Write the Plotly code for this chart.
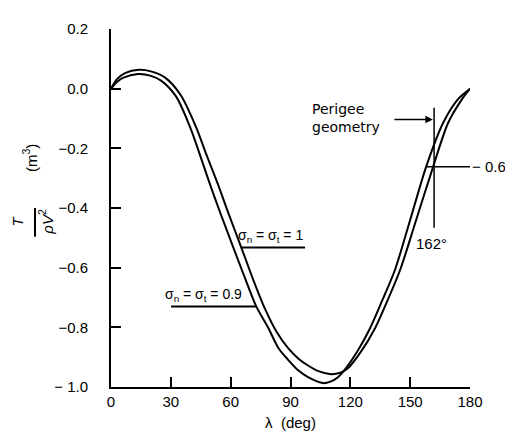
import plotly.graph_objects as go

# ---- data ----
lam_s1 = [0, 3, 7, 14, 20, 27, 35, 42.6, 47.5, 53.6, 59, 65.2, 71, 77, 83, 88.7, 94, 98.8, 104, 110.3,
          115, 118.8, 125, 132.4, 138, 145, 153, 161.5, 169, 176, 180]
T_s1 = [0.0, 0.032, 0.052, 0.063, 0.058, 0.038, -0.022, -0.128, -0.215, -0.32, -0.42, -0.53, -0.635,
        -0.735, -0.815, -0.869, -0.905, -0.928, -0.947, -0.957, -0.952, -0.937, -0.885, -0.803, -0.72,
        -0.607, -0.44, -0.262, -0.115, -0.035, 0.0]

lam_s09 = [0, 3, 6, 13.5, 20, 25.1, 32.6, 39.6, 44, 49.6, 55, 61.2, 67, 72.7, 78.7, 84, 88.7, 94, 98.8,
           106.3, 110, 113.8, 118, 124, 129.9, 136, 142.4, 150, 158, 166.5, 174, 180]
T_s09 = [0.0, 0.022, 0.036, 0.049, 0.043, 0.027, -0.026, -0.128, -0.21, -0.32, -0.42, -0.53, -0.632,
         -0.728, -0.80, -0.87, -0.908, -0.945, -0.967, -0.987, -0.982, -0.967, -0.935, -0.875, -0.803,
         -0.71, -0.607, -0.44, -0.262, -0.115, -0.035, 0.0]

x_ticks = [0, 30, 60, 90, 120, 150, 180]
x_ticktext = ["0", "30", "60", "90", "120", "150", "180"]
y_ticks = [0.2, 0.0, -0.2, -0.4, -0.6, -0.8, -1.0]
y_ticktext = ["0.2", "0.0", "\u22120.2", "\u22120.4", "\u22120.6", "\u22120.8", "\u2212 1.0"]

perigee_deg = 162
perigee_T = -0.262

FONT = "Liberation Sans, Arial, sans-serif"

fig = go.Figure()
fig.add_trace(go.Scatter(x=lam_s1, y=T_s1, mode="lines", name="σn=σt=1",
                         line=dict(color="black", width=2, shape="spline", smoothing=0.8)))
fig.add_trace(go.Scatter(x=lam_s09, y=T_s09, mode="lines", name="σn=σt=0.9",
                         line=dict(color="black", width=2, shape="spline", smoothing=0.8)))

axis_common = dict(showline=True, linecolor="black", linewidth=2, ticks="inside", ticklen=10,
                   tickwidth=2, tickcolor="black", showgrid=False, zeroline=False,
                   tickfont=dict(family=FONT, size=15, color="black"))

fig.update_xaxes(range=[0, 180], tickvals=x_ticks, ticktext=x_ticktext,
                 title=dict(text="λ  (deg)", font=dict(family=FONT, size=15, color="black"), standoff=8),
                 **axis_common)
fig.update_yaxes(range=[-1.0, 0.2], tickvals=y_ticks, ticktext=y_ticktext, ticklabelstandoff=18,
                 **axis_common)

ann = []
shapes = []
# y-axis title built as a fraction
tfont = dict(family=FONT, size=15, color="black")
lfont = dict(family=FONT, size=14, color="black")
ann.append(dict(xref="paper", yref="paper", x=-0.259, y=0.462, xanchor="center", yanchor="middle",
                text="<i>T</i>", textangle=-90, showarrow=False, font=tfont))
ann.append(dict(xref="paper", yref="paper", x=-0.181, y=0.462, xanchor="center", yanchor="middle",
                text="<i>ρV</i><sup>2</sup>", textangle=-90, showarrow=False, font=tfont))
ann.append(dict(xref="paper", yref="paper", x=-0.225, y=0.64, xanchor="center", yanchor="middle",
                text="(m<sup>3</sup>)", textangle=-90, showarrow=False, font=tfont))
shapes.append(dict(type="line", xref="paper", yref="paper", x0=-0.2117, x1=-0.2117, y0=0.42, y1=0.50,
                   line=dict(color="black", width=2)))

# curve labels
ann.append(dict(x=62.5, y=-0.532, xanchor="left", yanchor="bottom", showarrow=False,
                text="σ<sub>n</sub> = σ<sub>t</sub> = 1", font=lfont))
shapes.append(dict(type="line", x0=65.2, x1=97.3, y0=-0.532, y1=-0.532, line=dict(color="black", width=2)))
ann.append(dict(x=26.0, y=-0.730, xanchor="left", yanchor="bottom", showarrow=False,
                text="σ<sub>n</sub> = σ<sub>t</sub> = 0.9", font=lfont))
shapes.append(dict(type="line", x0=30.1, x1=72.7, y0=-0.730, y1=-0.730, line=dict(color="black", width=2)))

# perigee geometry annotation
ann.append(dict(x=100.0, y=-0.097, xanchor="left", yanchor="middle", align="left", showarrow=False,
                text="Perigee<br>geometry", font=dict(family="DejaVu Sans", size=14, color="black")))
ann.append(dict(x=161.4, y=-0.103, ax=-40, ay=0, text="", showarrow=True, arrowhead=2, arrowsize=1,
                arrowwidth=1.5, arrowcolor="black"))
shapes.append(dict(type="line", x0=perigee_deg, x1=perigee_deg, y0=-0.064, y1=-0.466,
                   line=dict(color="black", width=1.5)))
shapes.append(dict(type="line", x0=157.9, x1=180, y0=perigee_T, y1=perigee_T,
                   line=dict(color="black", width=1.5)))
ann.append(dict(xref="paper", x=1.0, y=perigee_T, xanchor="left", yanchor="middle", showarrow=False,
                text="\u2212 0.6", font=tfont))
ann.append(dict(x=160.5, y=-0.52, xanchor="center", yanchor="middle", showarrow=False,
                text=f"{perigee_deg}°", font=tfont))

fig.update_layout(width=513, height=436, margin=dict(l=103, r=51, t=15, b=57),
                  paper_bgcolor="white", plot_bgcolor="white", showlegend=False,
                  annotations=ann, shapes=shapes)

fig.write_html("out.html")
